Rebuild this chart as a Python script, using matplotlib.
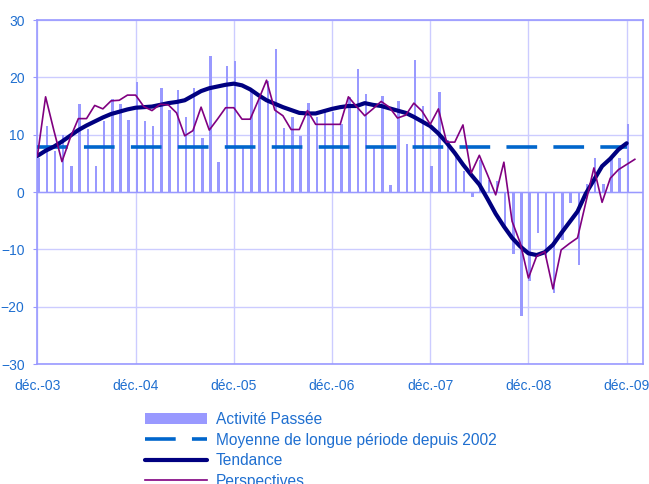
import matplotlib
matplotlib.use("Agg")
import matplotlib.pyplot as plt
import numpy as np

plt.rcParams['font.family'] = ['Liberation Sans', 'DejaVu Sans']

# monthly data, index 0 = déc.-03
activite = [6.0, 11.5, 7.2, 9.9, 4.5, 15.3, 11.0, 4.5, 12.4, 16.2, 15.3, 12.6,
            19.1, 12.3, 11.5, 18.1, 14.3, 17.8, 13.0, 18.1, 9.5, 23.7, 5.3, 21.9,
            22.8, 7.6, 17.8, 16.4, 19.4, 24.9, 11.2, 13.1, 9.7, 15.6, 13.1, 14.0,
            14.0, 11.9, 16.6, 21.4, 17.1, 7.6, 16.7, 1.2, 15.9, 8.3, 23.0, 15.0,
            4.5, 17.5, 9.0, 6.5, 3.7, -0.9, 5.6, 2.1, 1.9, -6.3, -10.9, -21.6,
            -15.5, -7.1, -11.5, -17.7, -8.4, -1.9, -12.8, 1.4, 6.0, 1.4, 5.9, 5.9,
            11.9]
tendance = [6.3, 7.2, 7.9, 8.8, 9.8, 10.8, 11.6, 12.3, 13.0, 13.6, 14.0, 14.4,
            14.7, 14.8, 14.9, 15.2, 15.5, 15.7, 16.0, 16.8, 17.6, 18.1, 18.4, 18.7,
            18.9, 18.6, 17.9, 16.9, 16.0, 15.4, 14.8, 14.3, 13.8, 13.7, 13.7, 14.1,
            14.5, 14.8, 15.0, 15.0, 15.5, 15.2, 15.0, 14.6, 14.2, 13.8, 13.1, 12.3,
            11.5, 10.2, 8.6, 6.8, 4.8, 3.0, 1.3, -1.2, -3.8, -6.0, -8.0, -9.5,
            -10.7, -11.0, -10.5, -9.2, -7.2, -5.3, -3.4, -0.3, 2.1, 4.5, 5.8, 7.4,
            8.5]
perspectives = [6.3, 16.6, 10.8, 5.3, 9.4, 12.8, 12.8, 15.1, 14.5, 15.9, 16.0, 16.9,
                16.9, 14.9, 14.2, 15.3, 15.2, 13.8, 9.8, 10.7, 14.8, 10.8, 12.7, 14.7,
                14.7, 12.7, 12.7, 16.0, 19.5, 14.3, 13.3, 10.9, 10.9, 14.2, 11.8, 11.8,
                11.8, 11.8, 16.6, 14.9, 13.3, 14.5, 15.8, 14.8, 12.9, 13.4, 15.5, 14.1,
                11.8, 14.5, 8.7, 8.7, 11.7, 3.3, 6.4, 3.0, -0.5, 5.2, -5.1, -8.9,
                -15.0, -11.2, -10.4, -16.9, -10.1, -9.0, -8.0, -1.9, 4.2, -1.8, 2.4, 3.9,
                4.8, 5.7]
moyenne = 7.9
tick_labels = ["déc.-03", "déc.-04", "déc.-05", "déc.-06", "déc.-07", "déc.-08", "déc.-09"]

txt = '#1f6fd0'
grid = '#ccccff'

fig = plt.figure(figsize=(6.49, 4.84), dpi=100)
ax = fig.add_axes([37 / 649, 1 - 364 / 484, 606 / 649, 344 / 484])

x_bar = np.arange(len(activite))
bars = ax.bar(x_bar, activite, width=0.3, align='edge', color='#9999ff', zorder=2)
moy, = ax.plot([0, len(tendance) - 1], [moyenne, moyenne], color='#0066cc', lw=2.6,
               dashes=(8.5, 4.5), zorder=3)
tend, = ax.plot(np.arange(len(tendance)), tendance, color='#000080', lw=3.0, zorder=4,
                solid_capstyle='round')
persp, = ax.plot(np.arange(len(perspectives)), perspectives, color='#800080', lw=1.2,
                 zorder=5)

ax.set_xlim(-0.05, 74)
ax.set_ylim(-30, 30)
ax.set_yticks(range(-30, 31, 10))
ax.set_xticks(range(0, 73, 12))
ax.set_xticklabels(tick_labels)
ax.axhline(0, color='#9999ff', lw=1, zorder=1)
ax.grid(True, color=grid, lw=1, zorder=0)
ax.set_axisbelow(True)
for s in ax.spines.values():
    s.set_color('#9999ff')
    s.set_linewidth(1.2)
ax.tick_params(axis='y', colors=txt, labelcolor=txt, labelsize=10, length=3,
               color='#9999ff', pad=6)
ax.tick_params(axis='x', colors=txt, labelcolor=txt, labelsize=10, length=0, pad=11)

fig.legend([bars, moy, tend, persp],
           ['Activité Passée', 'Moyenne de longue période depuis 2002', 'Tendance',
            'Perspectives'],
           loc='upper left', bbox_to_anchor=(145 / 649, 1 - 412 / 484),
           frameon=False, fontsize=11.2, labelcolor=txt, handlelength=4.0,
           handletextpad=0.55, labelspacing=0.36, borderpad=0, borderaxespad=0)

fig.savefig('out.png', dpi=100)
